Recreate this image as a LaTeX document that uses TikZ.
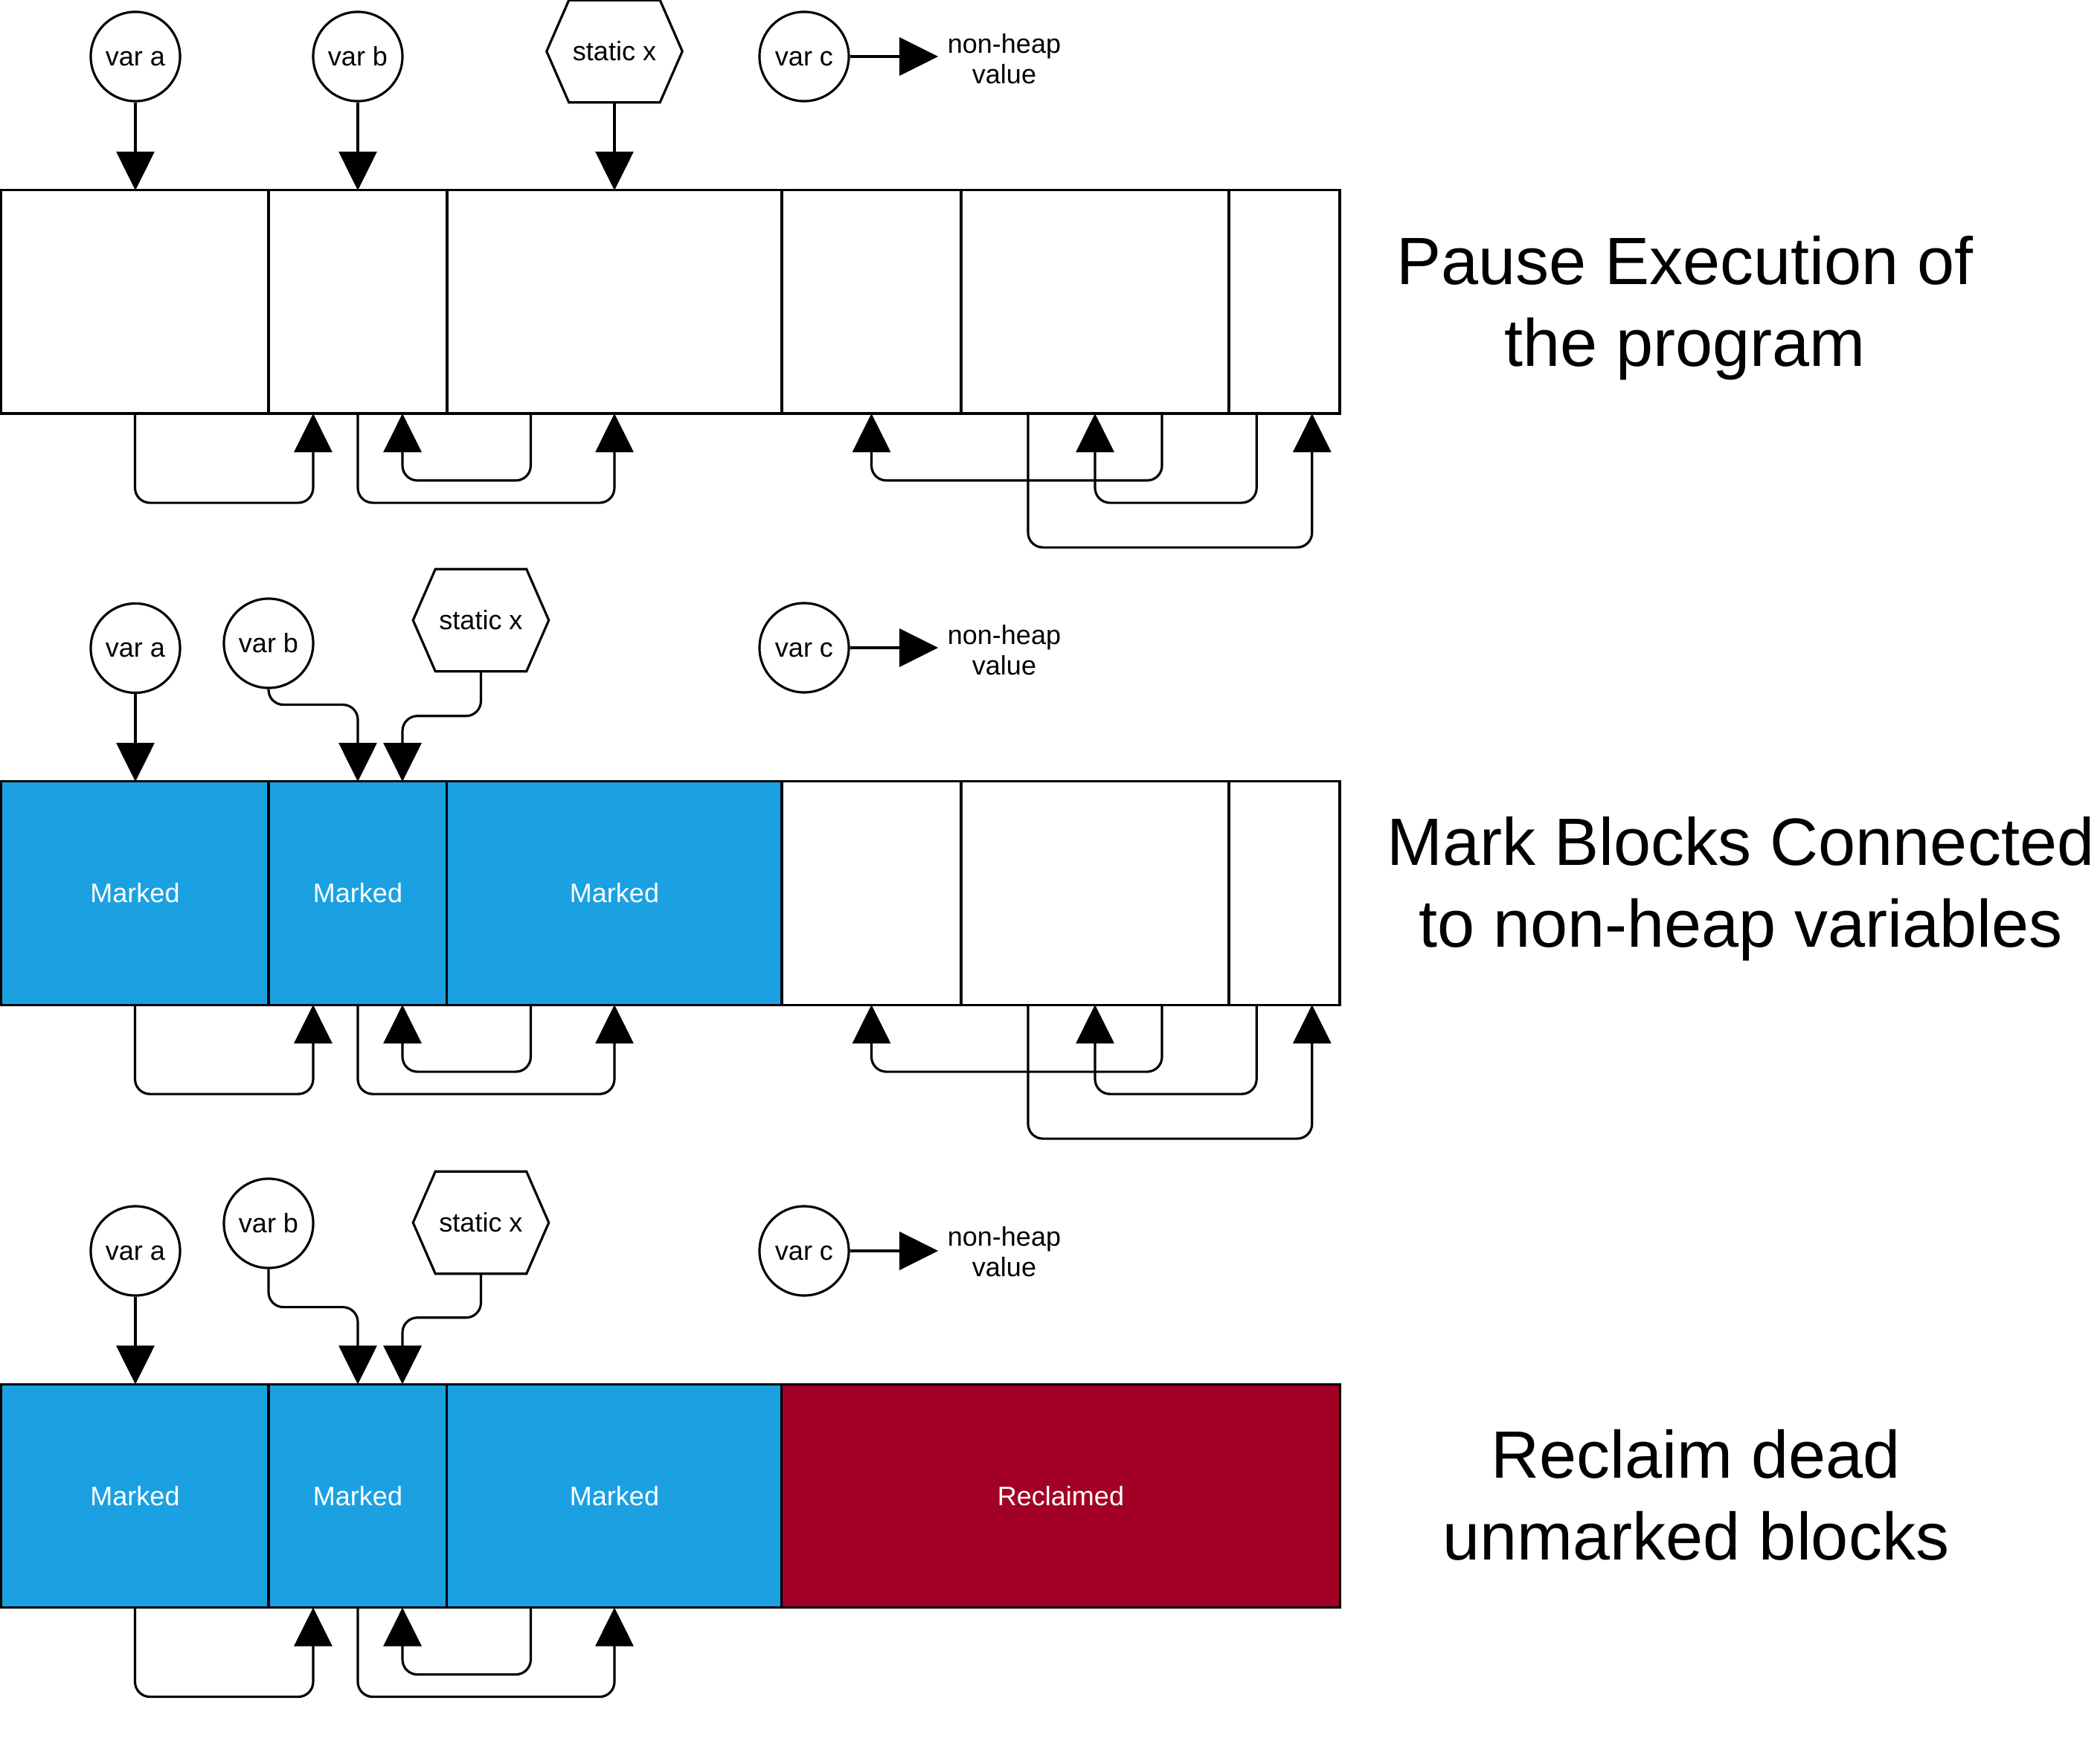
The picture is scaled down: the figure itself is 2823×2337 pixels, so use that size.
\documentclass[tikz,border=0pt]{standalone}
\usepackage{fontspec}
\setmainfont{Liberation Sans}
\usetikzlibrary{arrows.meta,calc}
\definecolor{mblue}{HTML}{1BA1E2}
\definecolor{crim}{HTML}{A20025}
\newcommand\hexpath[1]{\draw[lw] (#1.west) -- ([xshift=0.3cm]#1.north west) -- ([xshift=-0.3cm]#1.north east) -- (#1.east) -- ([xshift=-0.3cm]#1.south east) -- ([xshift=0.3cm]#1.south west) -- cycle;}
\newcommand\leftlinks[1]{%
 \draw[conn] (#11.south) -- ++(0,120) -| ($(#12.south west)!0.25!(#12.south east)$);
 \draw[conn] (#12.south) -- ++(0,120) -| (#13.south);
 \draw[conn] ($(#13.south west)!0.25!(#13.south east)$) -- ++(0,90) -| ($(#12.south west)!0.75!(#12.south east)$);
}
\newcommand\rightlinks[1]{%
 \draw[conn] ($(#15.south west)!0.75!(#15.south east)$) -- ++(0,90) -| (#14.south);
 \draw[conn] ($(#16.south west)!0.25!(#16.south east)$) -- ++(0,120) -| (#15.south);
 \draw[conn] ($(#15.south west)!0.25!(#15.south east)$) -- ++(0,180) -| ($(#16.south west)!0.75!(#16.south east)$);
}
\begin{document}
\begin{tikzpicture}[x=0.01cm,y=-0.01cm,
  lw/.style={line width=0.9pt},
  smalltxt/.style={font=\fontsize{10.24}{11.7}\selectfont},
  oneline/.style={text height=0.905em, text depth=0.212em},
  blk/.style={draw, lw, minimum height=3cm, inner sep=0pt, outer sep=0pt, smalltxt},
  mk/.style={blk, fill=mblue, text=white},
  rcl/.style={blk, fill=crim, text=white},
  var/.style={circle, draw, lw, minimum size=1.2cm, inner sep=0pt, smalltxt, oneline},
  hexbox/.style={minimum width=1.81cm, minimum height=1.36cm, inner sep=0pt, smalltxt, oneline},
  val/.style={align=center, inner sep=0.12cm, smalltxt},
  ttl/.style={align=center, font=\fontsize{25.6}{31.3}\selectfont},
  conn/.style={lw, rounded corners=0.2cm, -{Triangle[length=0.52cm,width=0.51cm]}},
]
\path[use as bounding box, fill=white] (0,0) rectangle (2823,2337);

% ---------- Row 1 ----------
\node[blk, minimum width=3.59cm] (a1) at (181.5,406) {};
\node[blk, minimum width=2.40cm] (a2) at (481,406) {};
\node[blk, minimum width=4.50cm] (a3) at (826,406) {};
\node[blk, minimum width=2.41cm] (a4) at (1171.5,406) {};
\node[blk, minimum width=3.60cm] (a5) at (1472,406) {};
\node[blk, minimum width=1.49cm] (a6) at (1726.5,406) {};

\node[var] (va1) at (182,76) {var a};
\node[var] (vb1) at (481,76) {var b};
\node[hexbox] (sx1) at (826,69) {static x}; \hexpath{sx1}
\node[var] (vc1) at (1081,76) {var c};
\node[val] (nh1) at (1350,79) {non-heap\\value};
\draw[conn] (vc1.east) -- (vc1.east -| nh1.west);

\draw[conn] (va1.south) -- (va1.south |- a1.north);
\draw[conn] (vb1.south) -- (vb1.south |- a2.north);
\draw[conn] (sx1.south) -- (sx1.south |- a3.north);
\leftlinks{a}
\rightlinks{a}

\node[ttl] (t1) at (2265,414) {Pause Execution of\\the program};

% ---------- Row 2 ----------
\node[mk, minimum width=3.59cm] (b1) at (181.5,1201) {Marked};
\node[mk, minimum width=2.40cm] (b2) at (481,1201) {Marked};
\node[mk, minimum width=4.50cm] (b3) at (826,1201) {Marked};
\node[blk, minimum width=2.41cm] (b4) at (1171.5,1201) {};
\node[blk, minimum width=3.60cm] (b5) at (1472,1201) {};
\node[blk, minimum width=1.49cm] (b6) at (1726.5,1201) {};

\node[var] (va2) at (182,871.5) {var a};
\node[var] (vb2) at (361,865) {var b};
\node[hexbox] (sx2) at (646.5,834) {static x}; \hexpath{sx2}
\node[var] (vc2) at (1081,871) {var c};
\node[val] (nh2) at (1350,874) {non-heap\\value};
\draw[conn] (vc2.east) -- (vc2.east -| nh2.west);

\draw[conn] (va2.south) -- (va2.south |- b1.north);
\draw[conn] (vb2.south) -- ++(0,21) -| (b2.north);
\draw[conn] (sx2.south) -- ++(0,60) -| ($(b2.north west)!0.75!(b2.north east)$);
\leftlinks{b}
\rightlinks{b}

\node[ttl] (t2) at (2340,1195) {Mark Blocks Connected\\to non-heap variables};

% ---------- Row 3 ----------
\node[mk, minimum width=3.59cm] (c1) at (181.5,2011.5) {Marked};
\node[mk, minimum width=2.40cm] (c2) at (481,2011.5) {Marked};
\node[mk, minimum width=4.50cm] (c3) at (826,2011.5) {Marked};
\node[rcl, minimum width=7.50cm] (c4) at (1426,2011.5) {Reclaimed};

\node[var] (va3) at (182,1682) {var a};
\node[var] (vb3) at (361,1645) {var b};
\node[hexbox] (sx3) at (646.5,1644) {static x}; \hexpath{sx3}
\node[var] (vc3) at (1081,1682) {var c};
\node[val] (nh3) at (1350,1683) {non-heap\\value};
\draw[conn] (vc3.east) -- (vc3.east -| nh3.west);

\draw[conn] (va3.south) -- (va3.south |- c1.north);
\draw[conn] (vb3.south) -- ++(0,51) -| (c2.north);
\draw[conn] (sx3.south) -- ++(0,59) -| ($(c2.north west)!0.75!(c2.north east)$);
\leftlinks{c}

\node[ttl] (t3) at (2280,2010) {Reclaim dead\\unmarked blocks};
\end{tikzpicture}
\end{document}
